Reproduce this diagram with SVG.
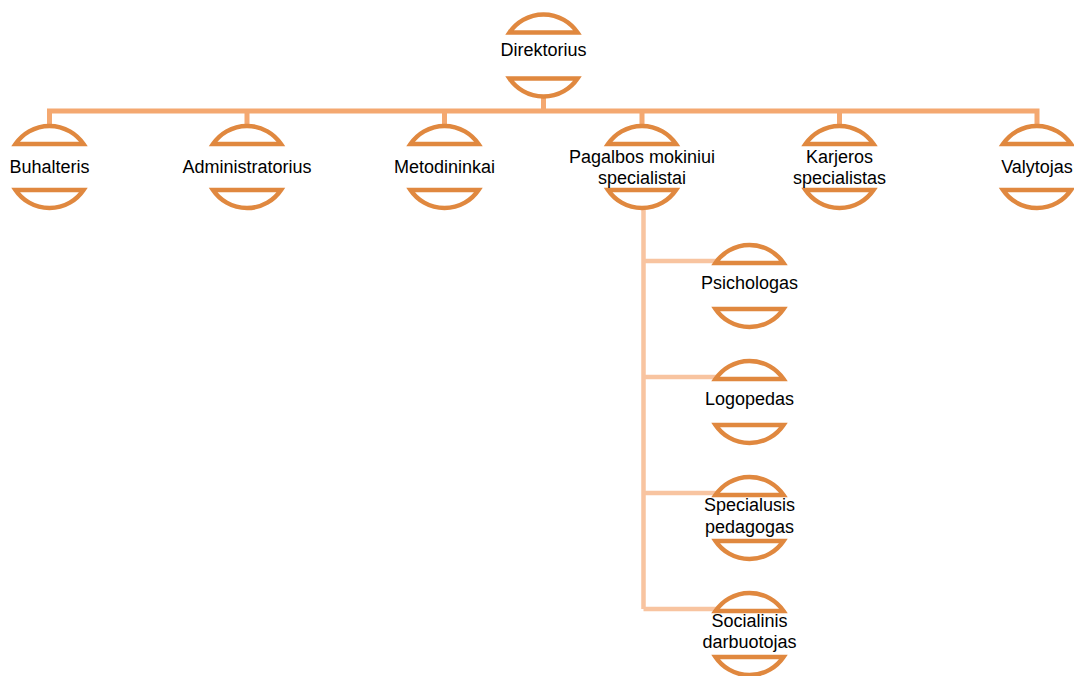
<svg xmlns="http://www.w3.org/2000/svg" width="1074" height="676" viewBox="0 0 1074 676">
<style>
.cap{fill:#fff;stroke:#E0883F;stroke-width:4.5;stroke-linejoin:miter}
.c1{fill:none;stroke:#F4A870;stroke-width:5}
.c2{fill:none;stroke:#F8C4A0;stroke-width:4.5}
text{font-family:"Liberation Sans",Arial,sans-serif;font-size:18px;fill:#000;text-anchor:middle}
</style>
<defs>
<g id="shape">
<path class="cap" d="M-34,-23 A41,41 0 0 1 34,-23 Z"/>
<path class="cap" d="M-34,23 A41,41 0 0 0 34,23 Z"/>
</g>
</defs>
<rect width="1074" height="676" fill="#fff"/>
<g id="connectors">
<path class="c1" d="M543.5,98 V111 M49.5,125 V111 H1037 V125 M247,111 V125 M444.5,111 V125 M642,111 V125 M839.5,111 V125"/>
<path class="c2" d="M643.5,210 V609 M643.5,261 H716 M643.5,377 H716 M643.5,493 H716 M643.5,609 H716"/>
</g>
<g id="n-direktorius"><use href="#shape" x="543.5" y="55.5"/><text x="543.5" y="56">Direktorius</text></g>
<g id="n-buhalteris"><use href="#shape" x="49.5" y="167"/><text x="49.5" y="173">Buhalteris</text></g>
<g id="n-administratorius"><use href="#shape" x="247" y="167"/><text x="247" y="173">Administratorius</text></g>
<g id="n-metodininkai"><use href="#shape" x="444.5" y="167"/><text x="444.5" y="173">Metodininkai</text></g>
<g id="n-pagalbos"><use href="#shape" x="642" y="167"/><text x="642" y="163">Pagalbos mokiniui</text><text x="642" y="184">specialistai</text></g>
<g id="n-karjeros"><use href="#shape" x="839.5" y="167"/><text x="839.5" y="163">Karjeros</text><text x="839.5" y="184">specialistas</text></g>
<g id="n-valytojas"><use href="#shape" x="1037" y="167"/><text x="1037" y="173">Valytojas</text></g>
<g id="n-psichologas"><use href="#shape" x="749.5" y="286"/><text x="749.5" y="289">Psichologas</text></g>
<g id="n-logopedas"><use href="#shape" x="749.5" y="402"/><text x="749.5" y="405">Logopedas</text></g>
<g id="n-specialusis"><use href="#shape" x="749.5" y="518"/><text x="749.5" y="511">Specialusis</text><text x="749.5" y="533">pedagogas</text></g>
<g id="n-socialinis"><use href="#shape" x="749.5" y="634"/><text x="749.5" y="627">Socialinis</text><text x="749.5" y="648">darbuotojas</text></g>
</svg>
